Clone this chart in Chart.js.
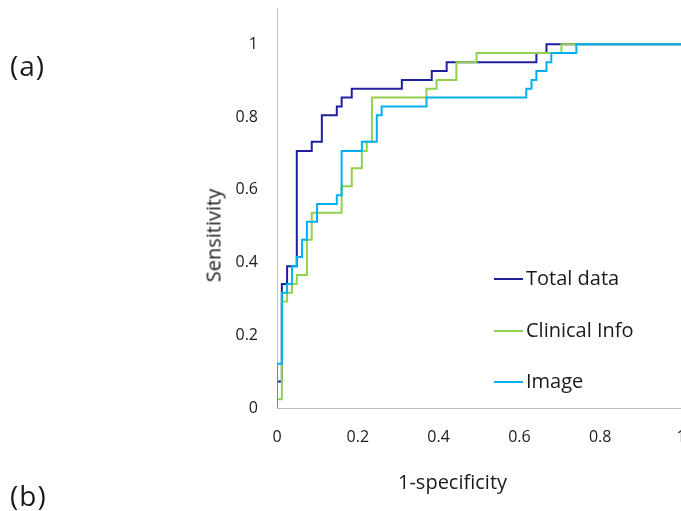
<!DOCTYPE html>
<html>
<head>
<meta charset="utf-8">
<script src="https://cdn.jsdelivr.net/npm/chart.js@4/dist/chart.umd.min.js"></script>
<style>
  html, body { margin:0; padding:0; background:#fff; }
  body { width:681px; height:511px; overflow:hidden; position:relative; font-family:"Open Sans", "Noto Sans", sans-serif; color:#1a1a1a; }
  #wrap { position:absolute; left:0; top:0; width:700px; height:511px; }
  .lbl { position:absolute; white-space:nowrap; }
  .pan { position:absolute; white-space:nowrap; font-size:28px; line-height:38px; letter-spacing:1px; }
  .leg { position:absolute; left:494px; height:24px; font-size:20px; line-height:24px; }
  .leg span.sw { display:inline-block; width:29px; height:2px; vertical-align:middle; margin-right:3px; position:relative; top:-1px; }
</style>
</head>
<body>
<div id="wrap"><canvas id="c" width="700" height="511"></canvas></div>
<div class="pan" style="left:10px;top:46px;">(a)</div>
<div class="pan" style="left:10px;top:476px;">(b)</div>
<div class="lbl" style="left:398px;top:468px;font-size:20px;">1-specificity</div>
<div class="lbl" style="left:158px;top:222px;font-size:20px;width:110px;text-align:center;transform:rotate(-90deg);transform-origin:center;">Sensitivity</div>
<div class="leg" style="top:266px;"><span class="sw" style="background:#1F1F9F"></span>Total data</div>
<div class="leg" style="top:318px;"><span class="sw" style="background:#92D050"></span>Clinical Info</div>
<div class="leg" style="top:369px;"><span class="sw" style="background:#00B0F0"></span>Image</div>
<script>
// Series names
const seriesNames = ["Total data", "Clinical Info", "Image"];
// Tick labels
const xTicks = [0, 0.2, 0.4, 0.6, 0.8, 1];
const yTicks = [0, 0.2, 0.4, 0.6, 0.8, 1];

// ROC step corners (1-specificity, sensitivity)
const totalFpr = [0, 0, 0.012, 0.025, 0.049, 0.086, 0.111, 0.148, 0.160, 0.185, 0.309, 0.383, 0.420, 0.642, 0.667, 1];
const totalTpr = [0, 0.073, 0.341, 0.390, 0.707, 0.732, 0.805, 0.829, 0.854, 0.878, 0.902, 0.927, 0.951, 0.976, 1, 1];

const clinicalFpr = [0, 0, 0.012, 0.025, 0.037, 0.049, 0.074, 0.086, 0.160, 0.185, 0.210, 0.222, 0.235, 0.370, 0.395, 0.444, 0.494, 0.704, 1];
const clinicalTpr = [0, 0.024, 0.293, 0.317, 0.341, 0.366, 0.463, 0.537, 0.610, 0.659, 0.707, 0.732, 0.854, 0.878, 0.902, 0.951, 0.976, 1, 1];

const imageFpr = [0, 0, 0.012, 0.025, 0.037, 0.049, 0.062, 0.074, 0.099, 0.148, 0.160, 0.210, 0.247, 0.259, 0.370, 0.617, 0.630, 0.642, 0.667, 0.679, 0.741, 1];
const imageTpr = [0, 0.122, 0.317, 0.341, 0.390, 0.415, 0.463, 0.512, 0.561, 0.585, 0.707, 0.732, 0.805, 0.829, 0.854, 0.878, 0.902, 0.927, 0.951, 0.976, 1, 1];

function pts(xs, ys) { return xs.map((x, i) => ({ x: x, y: ys[i] })); }

const tickFont = { family: "'Open Sans', 'Noto Sans', sans-serif", size: 16 };

new Chart(document.getElementById('c'), {
  type: 'line',
  data: {
    datasets: [
      { label: seriesNames[2], data: pts(imageFpr, imageTpr), borderColor: '#00B0F0', order: 0 },
      { label: seriesNames[1], data: pts(clinicalFpr, clinicalTpr), borderColor: '#92D050', order: 1 },
      { label: seriesNames[0], data: pts(totalFpr, totalTpr), borderColor: '#1F1F9F', order: 2 }
    ]
  },
  options: {
    responsive: false,
    devicePixelRatio: 1,
    animation: false,
    events: [],
    layout: { padding: { left: 0, right: 19, top: 8, bottom: 0 } },
    elements: {
      line: { borderWidth: 2, stepped: 'before', tension: 0, fill: false },
      point: { radius: 0 }
    },
    plugins: { legend: { display: false }, tooltip: { enabled: false }, title: { display: false } },
    scales: {
      x: {
        type: 'linear', min: 0, max: 1,
        grid: { display: false, drawTicks: false },
        border: { display: true, color: '#BFBFBF', width: 1 },
        afterBuildTicks: s => { s.ticks = xTicks.map(v => ({ value: v })); },
        afterFit: s => { s.height = 103; s.paddingLeft = 0; s.paddingRight = 0; },
        ticks: { padding: 20, color: '#1a1a1a', font: tickFont, maxRotation: 0, autoSkip: false,
                 callback: v => String(v) }
      },
      y: {
        type: 'linear', min: 0, max: 1.1,
        grid: { display: false, drawTicks: false },
        border: { display: true, color: '#BFBFBF', width: 1 },
        afterBuildTicks: s => { s.ticks = yTicks.map(v => ({ value: v })); },
        afterFit: s => { s.width = 277; s.paddingTop = 0; s.paddingBottom = 0; },
        ticks: { padding: 19, color: '#1a1a1a', font: tickFont, autoSkip: false,
                 callback: v => String(v) }
      }
    }
  }
});
</script>
</body>
</html>
